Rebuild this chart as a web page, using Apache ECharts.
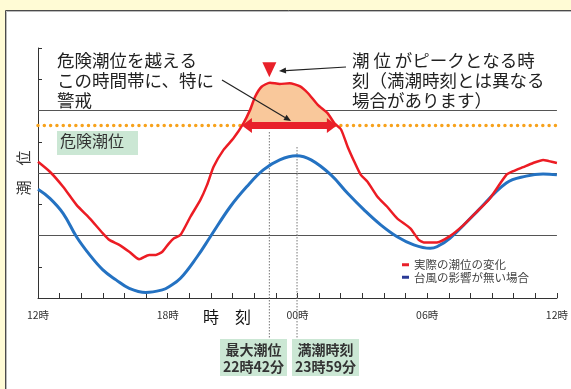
<!DOCTYPE html>
<html><head><meta charset="utf-8">
<script src="https://cdn.jsdelivr.net/npm/echarts@6/dist/echarts.min.js"></script>
<style>html,body{margin:0;padding:0;background:#fffbd5}#c{width:571px;height:389px}</style>
</head><body><div id="c"></div>
<script>
// ---- data (hours counted from 12:00) ----
const tickLabels = ['12時', '18時', '00時', '06時', '12時'];
const seriesNames = ['実際の潮位の変化', '台風の影響が無い場合'];
const redHours = [0, 0.55, 1.16, 1.78, 2.39, 3.0, 3.3, 3.76, 4.22, 4.68, 5.14, 5.45, 5.75, 6.06, 6.29, 6.59, 7.05, 7.51, 7.82, 8.12, 8.58, 9.04, 9.5, 9.81, 10.04, 10.34, 10.73, 11.18, 11.64, 12.1, 12.48, 12.94, 13.4, 13.71, 14.01, 14.32, 14.63, 14.93, 15.24, 15.7, 16.15, 16.61, 17.22, 17.61, 17.84, 18.45, 19.05, 19.69, 20.28, 20.88, 21.66, 21.98, 22.44, 22.9, 23.36, 23.63, 24];
const redLevels = [4.36, 4.04, 3.56, 2.98, 2.55, 2.07, 1.86, 1.70, 1.48, 1.24, 1.38, 1.38, 1.48, 1.75, 1.91, 2.02, 2.60, 3.14, 3.62, 4.20, 4.74, 5.11, 5.59, 6.02, 6.44, 6.76, 6.89, 6.85, 6.87, 6.78, 6.56, 6.18, 5.91, 5.59, 5.40, 4.84, 4.36, 3.94, 3.72, 3.24, 2.92, 2.55, 2.23, 1.86, 1.78, 1.78, 1.98, 2.34, 2.75, 3.17, 3.94, 4.06, 4.19, 4.32, 4.42, 4.38, 4.32];
const blueHours = [0, 0.55, 1.16, 1.78, 2.39, 3.0, 3.61, 4.22, 4.99, 5.75, 6.06, 6.59, 7.36, 7.97, 8.89, 9.65, 10.42, 11.18, 11.95, 12.63, 13.55, 14.32, 15.08, 15.85, 16.61, 17.38, 18.14, 18.45, 19.05, 20.28, 21.66, 22.58, 23.36, 24];
const blueLevels = [3.48, 3.19, 2.71, 1.96, 1.38, 0.90, 0.58, 0.31, 0.18, 0.26, 0.36, 0.63, 1.32, 1.96, 2.92, 3.56, 4.10, 4.42, 4.55, 4.42, 3.94, 3.35, 2.82, 2.34, 1.96, 1.70, 1.59, 1.64, 1.91, 2.75, 3.68, 3.90, 3.97, 3.94];
const dangerLevel = 5.52;
const gridLevels = [2, 4, 6];
const peakHour = 10.7;      // 22時42分
const highTideHour = 11.98; // 23時59分

const FONT = '"Noto Sans CJK JP", "Noto Sans CJK SC", sans-serif';
const zip = (a, b) => a.map((x, i) => [x, b[i]]);
const redData = zip(redHours, redLevels);
const blueData = zip(blueHours, blueLevels);

// portion of the red curve above the danger level
const fillData = [];
let cross1 = null, cross2 = null;
for (let i = 0; i < redData.length - 1; i++) {
  const [x0, y0] = redData[i], [x1, y1] = redData[i + 1];
  if (y0 >= dangerLevel) fillData.push([x0, y0]);
  if (y0 < dangerLevel && y1 >= dangerLevel) {
    cross1 = x0 + (dangerLevel - y0) / (y1 - y0) * (x1 - x0);
    fillData.push([cross1, dangerLevel]);
  }
  if (y0 >= dangerLevel && y1 < dangerLevel) {
    cross2 = x0 + (dangerLevel - y0) / (y1 - y0) * (x1 - x0);
    fillData.push([cross2, dangerLevel]);
  }
}
const peakLevel = Math.max(...redLevels);

const chart = echarts.init(document.getElementById('c'), null, {renderer: 'canvas'});
chart.setOption({
  animation: false,
  backgroundColor: '#fffbd5',
  textStyle: {fontFamily: FONT},
  grid: {left: 38, right: 10, top: 48, bottom: 91},
  xAxis: {
    type: 'value', min: 0, max: 24, interval: 1,
    axisLine: {lineStyle: {color: '#333', width: 1}},
    axisTick: {inside: true, length: 5, lineStyle: {color: '#333'}},
    splitLine: {show: false},
    axisLabel: {
      fontSize: 10.5, color: '#333', margin: 12, fontFamily: FONT,
      formatter: v => (v % 6 === 0 ? tickLabels[v / 6] : '')
    }
  },
  yAxis: {
    type: 'value', min: 0, max: 8, interval: 1,
    name: '潮　位', nameLocation: 'middle', nameGap: 7, nameRotate: 90,
    nameTextStyle: {fontSize: 15, color: '#333', fontFamily: FONT},
    axisLine: {show: true, lineStyle: {color: '#333', width: 1}},
    axisTick: {show: true, inside: true, length: 4, lineStyle: {color: '#333'}},
    axisLabel: {show: false},
    splitLine: {show: false}
  },
  legend: {
    orient: 'vertical', left: 402, top: 259, padding: 0,
    itemWidth: 7, itemHeight: 3, itemGap: 1, icon: 'rect',
    textStyle: {fontSize: 11.5, color: '#444', fontFamily: FONT},
    data: [
      {name: seriesNames[0], itemStyle: {color: '#e8202a'}},
      {name: seriesNames[1], itemStyle: {color: '#2a3a96'}}
    ]
  },
  series: [
    {
      name: 'danger', type: 'line', data: [[0, dangerLevel], [24, dangerLevel]],
      symbol: 'none', silent: true, z: 2,
      lineStyle: {color: '#f7a21c', width: 3.5, type: [0.01, 6.3], cap: 'round'},
      markLine: {
        silent: true, symbol: 'none', z: 1, label: {show: false},
        lineStyle: {color: '#555', width: 1, type: 'solid'},
        emphasis: {disabled: true},
        data: gridLevels.map(v => ({yAxis: v}))
      }
    },
    {
      name: 'fill', type: 'line', data: fillData, symbol: 'none', silent: true, z: 3,
      lineStyle: {width: 0},
      areaStyle: {color: '#f9c89b', opacity: 1, origin: dangerLevel},
      markLine: {
        silent: true, z: 6, symbol: ['triangle', 'triangle'], symbolSize: [15, 10],
        label: {show: false}, emphasis: {disabled: true},
        itemStyle: {color: '#e8202a'},
        lineStyle: {color: '#e8202a', width: 7, type: 'solid'},
        data: [[{coord: [cross1 + 0.23, dangerLevel]}, {coord: [cross2 - 0.23, dangerLevel]}]]
      }
    },
    {
      name: seriesNames[1], type: 'line', data: blueData, smooth: 0.4, symbol: 'none', z: 4,
      lineStyle: {color: '#2472c2', width: 3}, itemStyle: {color: '#2a3a96'}
    },
    {
      name: seriesNames[0], type: 'line', data: redData, smooth: 0.2, symbol: 'none', z: 5,
      lineStyle: {color: '#ec1c24', width: 2.5}, itemStyle: {color: '#e8202a'},
      markPoint: {
        silent: true, z: 7,
        symbol: 'triangle', symbolRotate: 180, symbolSize: [14, 15], symbolOffset: [0, -13],
        itemStyle: {color: '#e8202a'}, label: {show: false},
        data: [{coord: [peakHour, peakLevel]}]
      }
    }
  ]
});

const px = (h, v) => chart.convertToPixel({gridIndex: 0}, [h, v]);
const xPeak = px(peakHour, 0)[0];
const xHigh = px(highTideHour, 0)[0];

function arrow(x1, y1, x2, y2) {
  const a = Math.atan2(y2 - y1, x2 - x1), L = 7, W = 3;
  const bx = x2 - L * Math.cos(a), by = y2 - L * Math.sin(a);
  return [
    {type: 'line', z: 20, shape: {x1, y1, x2: bx, y2: by}, style: {stroke: '#222', lineWidth: 1.2}},
    {type: 'polygon', z: 20, shape: {points: [[x2, y2], [bx + W * Math.sin(a), by - W * Math.cos(a)], [bx - W * Math.sin(a), by + W * Math.cos(a)]]}, style: {fill: '#222'}}
  ];
}
const txt = (x, y, text, font, extra) => Object.assign({
  type: 'text', z: 20, style: Object.assign({x, y, text, font, fill: '#222', textVerticalAlign: 'top'}, extra || {})
});

chart.setOption({
  graphic: {elements: [
    {type: 'rect', z: -10, shape: {x: 5.5, y: 10.5, width: 600, height: 400}, style: {fill: '#fff', stroke: '#4a4a4a', lineWidth: 1}},
    {type: 'rect', z: -9, shape: {x: 6.5, y: 11.5, width: 600, height: 400}, style: {fill: 'none', stroke: '#bbb', lineWidth: 1}},
    {type: 'line', z: 2, shape: {x1: xPeak, y1: 132, x2: xPeak, y2: 339}, style: {stroke: '#777', lineWidth: 1, lineDash: [1.5, 1.5]}},
    {type: 'line', z: 2, shape: {x1: xHigh, y1: 147, x2: xHigh, y2: 339}, style: {stroke: '#777', lineWidth: 1, lineDash: [1.5, 1.5]}},
    {type: 'rect', z: 10, shape: {x: 57, y: 131, width: 81, height: 24}, style: {fill: '#cbe7d4'}},
    txt(60, 133, '危険潮位', '16px ' + FONT, {fill: '#333'}),
    txt(57, 50.5, '危険潮位を越える\nこの時間帯に、特に\n警戒', '17.5px ' + FONT, {lineHeight: 20}),
    txt(352, 50.5, '潮 位 がピークとなる時\n刻（満潮時刻とは異なる\n場合があります）', '17.5px ' + FONT, {lineHeight: 20}),
    txt(227, 317, '時　刻', '16px ' + FONT, {textAlign: 'center', textVerticalAlign: 'middle', fill: '#111'}),
    {type: 'rect', z: 10, shape: {x: 220, y: 339, width: 67, height: 37}, style: {fill: '#cbe7d4'}},
    {type: 'rect', z: 10, shape: {x: 292, y: 339, width: 67, height: 37}, style: {fill: '#cbe7d4'}},
    txt(253.5, 341, '最大潮位\n22時42分', 'bold 14px ' + FONT, {textAlign: 'center', lineHeight: 17, fill: '#333'}),
    txt(325.5, 341, '満潮時刻\n23時59分', 'bold 14px ' + FONT, {textAlign: 'center', lineHeight: 17, fill: '#333'}),
    ...arrow(222, 80, 291, 121),
    ...arrow(346, 67, 279, 71)
  ]}
});
</script>
</body></html>
